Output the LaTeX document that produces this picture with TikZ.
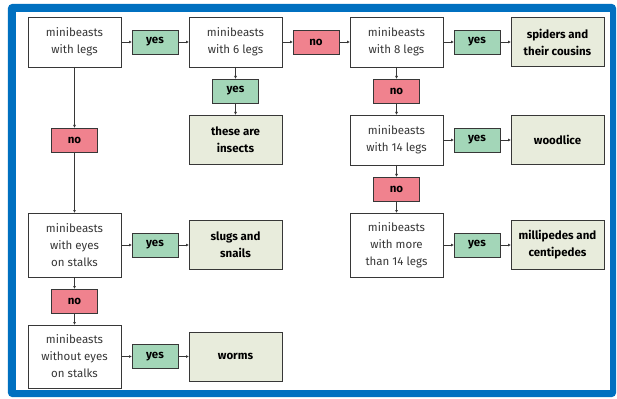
\documentclass[tikz,border=0pt]{standalone}
\usepackage{fontspec}
\setmainfont{Fira Sans}
\usetikzlibrary{positioning, arrows.meta}
\definecolor{frameblue}{RGB}{0,112,192}
\definecolor{yesgreen}{RGB}{163,214,184}
\definecolor{nopink}{RGB}{240,130,142}
\definecolor{endbeige}{RGB}{232,236,220}
\definecolor{edgegrey}{RGB}{55,55,55}

\tikzset{
  question/.style={draw=edgegrey, fill=white, line width=0.9pt, outer sep=0pt, inner sep=1pt,
    minimum width=93pt, minimum height=50pt, align=center, text=edgegrey,
    font=\fontsize{11.5}{17}\selectfont},
  tallquestion/.style={question, minimum height=64pt},
  answer/.style={draw=edgegrey, fill=endbeige, line width=0.9pt, outer sep=0pt, inner sep=1pt,
    minimum width=93pt, minimum height=49pt, align=center,
    font=\bfseries\fontsize{11.5}{17}\selectfont},
  yesbox/.style={draw=edgegrey, fill=yesgreen, line width=0.9pt, outer sep=0pt,
    minimum width=46pt, minimum height=24pt, font=\bfseries\fontsize{11.5}{12}\selectfont},
  nobox/.style={yesbox, fill=nopink},
  link/.style={draw=edgegrey, line width=0.9pt, -{Latex[length=3pt,width=3pt]}}
}

\begin{document}
\begin{tikzpicture}[x=1pt, y=1pt, node distance=12pt and 11pt]
    \useasboundingbox (-74.5,42) rectangle (542.5,-356);
    % blue frame
    \fill[frameblue, rounded corners=4pt] (-66.5,38) rectangle (541.5,-355);
    \fill[white] (-58.5,30) rectangle (535.5,-348);

    % top row
    \node[question] (legs) {minibeasts\\with legs};
    \node[yesbox, right=of legs] (yes-legs) {yes};
    \node[question, right=of yes-legs] (six) {minibeasts\\with 6 legs};
    \node[nobox, right=of six] (no-six) {no};
    \node[question, right=of no-six] (eight) {minibeasts\\with 8 legs};
    \node[yesbox, right=of eight] (yes-eight) {yes};
    \node[answer, right=of yes-eight] (spiders) {spiders and\\their cousins};

    % insects
    \node[yesbox, below=of six] (yes-six) {yes};
    \node[answer, below=of yes-six] (insects) {these are\\insects};

    % right column
    \node[nobox, below=of eight] (no-eight) {no};
    \node[question, below=of no-eight] (fourteen) {minibeasts\\with 14 legs};
    \node[yesbox, right=of fourteen] (yes-fourteen) {yes};
    \node[answer, right=of yes-fourteen] (woodlice) {woodlice};
    \node[nobox, below=of fourteen] (no-fourteen) {no};
    \node[tallquestion, below=of no-fourteen] (more) {minibeasts\\with more\\than 14 legs};
    \node[yesbox, right=of more] (yes-more) {yes};
    \node[answer, right=of yes-more] (millipedes) {millipedes and\\centipedes};

    % left column
    \node[tallquestion] (stalks) at (legs |- more) {minibeasts\\with eyes\\on stalks};
    \node[nobox] (no-legs) at (legs |- fourteen) {no};
    \node[yesbox, right=of stalks] (yes-stalks) {yes};
    \node[answer, right=of yes-stalks] (slugs) {slugs and\\snails};
    \node[nobox, below=of stalks] (no-stalks) {no};
    \node[tallquestion, below=of no-stalks, minimum height=63pt] (noeyes) {minibeasts\\without eyes\\on stalks};
    \node[yesbox, right=of noeyes] (yes-noeyes) {yes};
    \node[answer, right=of yes-noeyes] (worms) {worms};

    \draw[link] (legs) -- (yes-legs);
    \draw[link] (yes-legs) -- (six);
    \draw[link] (six) -- (no-six);
    \draw[link] (no-six) -- (eight);
    \draw[link] (eight) -- (yes-eight);
    \draw[link] (yes-eight) -- (spiders);
    \draw[link] (six) -- (yes-six);
    \draw[link] (yes-six) -- (insects);
    \draw[link] (eight) -- (no-eight);
    \draw[link] (no-eight) -- (fourteen);
    \draw[link] (fourteen) -- (yes-fourteen);
    \draw[link] (yes-fourteen) -- (woodlice);
    \draw[link] (fourteen) -- (no-fourteen);
    \draw[link] (no-fourteen) -- (more);
    \draw[link] (more) -- (yes-more);
    \draw[link] (yes-more) -- (millipedes);
    \draw[link] (legs) -- (no-legs);
    \draw[link] (no-legs) -- (stalks);
    \draw[link] (stalks) -- (yes-stalks);
    \draw[link] (yes-stalks) -- (slugs);
    \draw[link] (stalks) -- (no-stalks);
    \draw[link] (no-stalks) -- (noeyes);
    \draw[link] (noeyes) -- (yes-noeyes);
    \draw[link] (yes-noeyes) -- (worms);
\end{tikzpicture}
\end{document}
